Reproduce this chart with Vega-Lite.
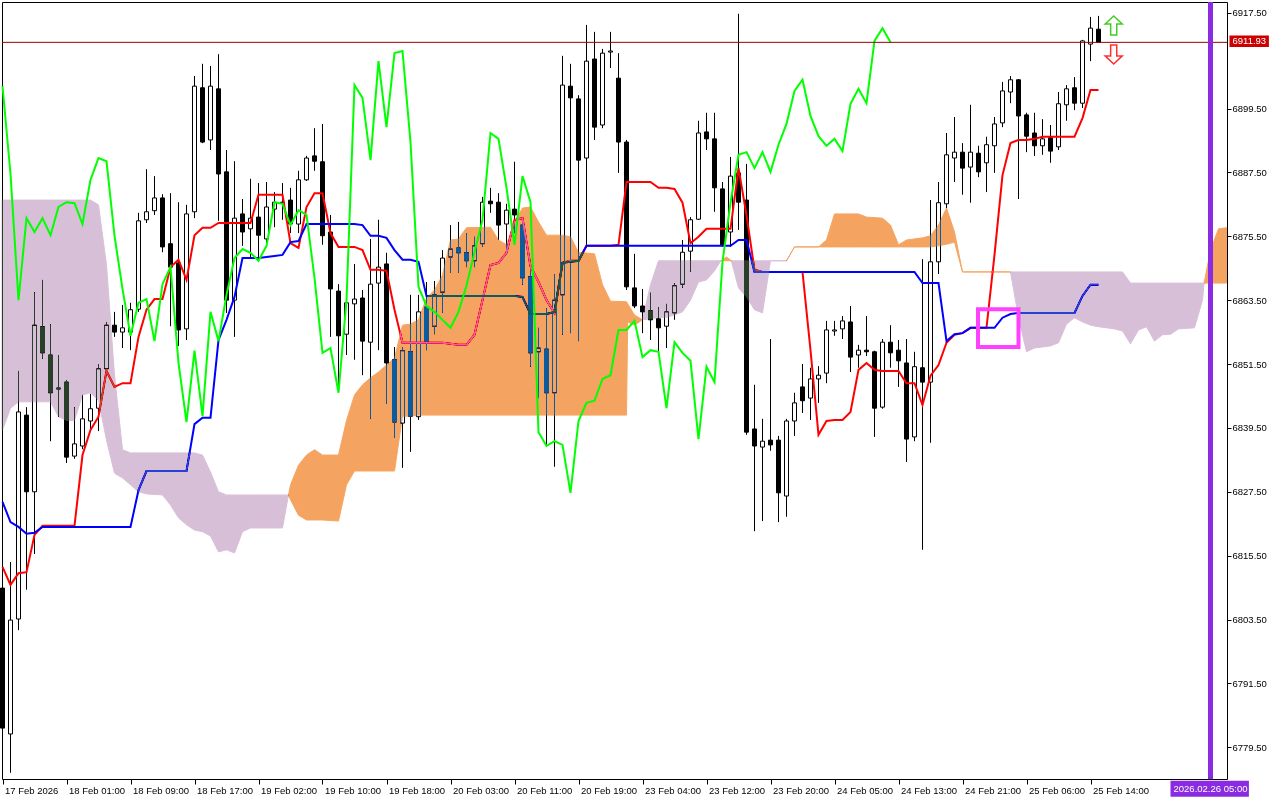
{
"$schema": "https://vega.github.io/schema/vega-lite/v6.json",
"width": 1225, "height": 777,
"autosize": {"type": "none"},
"padding": {"left": 2, "top": 2, "right": 53, "bottom": 21},
"background": "white",
"config": {"view": {"stroke": "black", "strokeWidth": 1}, "font": "Liberation Sans",
 "axis": {"labelFont": "Liberation Sans", "labelFontSize": 9.5, "labelColor": "black", "tickColor": "black", "grid": false, "domain": false, "title": null}},
"datasets": {
"bars": [
{"i":0,"o":6809.4,"h":6810.0,"l":6782.4,"c":6783.1,"t":6813.4,"k":6825.6,"ch":6903.7},
{"i":1,"o":6782.0,"h":6814.3,"l":6774.7,"c":6803.4,"t":6810.0,"k":6821.8,"ch":6887.2},
{"i":2,"o":6803.6,"h":6850.2,"l":6801.5,"c":6842.5,"t":6812.2,"k":6820.9,"ch":6863.5},
{"i":3,"o":6841.9,"h":6843.4,"l":6809.1,"c":6827.5,"t":6812.4,"k":6819.6,"ch":6878.9},
{"i":4,"o":6827.5,"h":6865.0,"l":6815.8,"c":6858.8,"t":6819.4,"k":6819.8,"ch":6876.3},
{"i":5,"o":6858.5,"h":6867.3,"l":6852.5,"c":6853.6,"t":6821.1,"k":6820.9,"ch":6878.9},
{"i":6,"o":6853.2,"h":6859.0,"l":6837.0,"c":6846.1,"t":6821.1,"k":6820.9,"ch":6875.7},
{"i":7,"o":6847.0,"h":6853.2,"l":6841.6,"c":6846.8,"t":6821.1,"k":6820.9,"ch":6881.0},
{"i":8,"o":6848.1,"h":6848.5,"l":6832.9,"c":6834.0,"t":6821.1,"k":6820.9,"ch":6881.9},
{"i":9,"o":6834.2,"h":6843.4,"l":6833.7,"c":6836.5,"t":6821.1,"k":6820.9,"ch":6881.7},
{"i":10,"o":6836.1,"h":6845.7,"l":6835.5,"c":6841.2,"t":6834.4,"k":6820.9,"ch":6877.8},
{"i":11,"o":6840.8,"h":6845.9,"l":6838.9,"c":6843.1,"t":6839.1,"k":6820.9,"ch":6886.1},
{"i":12,"o":6843.2,"h":6851.5,"l":6838.9,"c":6850.6,"t":6841.6,"k":6820.9,"ch":6890.2},
{"i":13,"o":6850.6,"h":6859.4,"l":6850.0,"c":6858.8,"t":6850.2,"k":6820.9,"ch":6889.6},
{"i":14,"o":6858.8,"h":6861.3,"l":6856.6,"c":6857.5,"t":6847.2,"k":6820.9,"ch":6875.6},
{"i":15,"o":6857.5,"h":6862.6,"l":6854.5,"c":6858.3,"t":6847.9,"k":6820.9,"ch":6865.6},
{"i":16,"o":6857.5,"h":6863.0,"l":6854.1,"c":6861.7,"t":6847.9,"k":6820.9,"ch":6856.8},
{"i":17,"o":6861.8,"h":6879.9,"l":6861.3,"c":6878.4,"t":6856.6,"k":6827.8,"ch":6863.0},
{"i":18,"o":6878.6,"h":6888.1,"l":6878.0,"c":6880.1,"t":6861.7,"k":6831.4,"ch":6863.7},
{"i":19,"o":6880.3,"h":6886.8,"l":6879.5,"c":6882.7,"t":6863.7,"k":6831.4,"ch":6855.8},
{"i":20,"o":6882.7,"h":6883.4,"l":6872.5,"c":6873.5,"t":6863.7,"k":6831.4,"ch":6866.5},
{"i":21,"o":6874.1,"h":6883.6,"l":6858.6,"c":6869.7,"t":6869.7,"k":6831.4,"ch":6869.7},
{"i":22,"o":6870.5,"h":6881.9,"l":6854.9,"c":6857.9,"t":6871.1,"k":6831.4,"ch":6851.7},
{"i":23,"o":6858.1,"h":6881.4,"l":6856.0,"c":6879.7,"t":6867.3,"k":6831.4,"ch":6840.6},
{"i":24,"o":6880.1,"h":6905.6,"l":6878.9,"c":6903.7,"t":6875.7,"k":6840.2,"ch":6854.0},
{"i":25,"o":6903.4,"h":6907.9,"l":6893.0,"c":6893.2,"t":6877.1,"k":6841.4,"ch":6841.7},
{"i":26,"o":6893.6,"h":6907.5,"l":6891.7,"c":6903.7,"t":6877.1,"k":6841.4,"ch":6861.3},
{"i":27,"o":6903.2,"h":6909.7,"l":6878.4,"c":6887.2,"t":6878.0,"k":6856.0,"ch":6855.8},
{"i":28,"o":6887.6,"h":6891.7,"l":6861.1,"c":6863.5,"t":6878.0,"k":6859.8,"ch":6864.5},
{"i":29,"o":6863.5,"h":6889.6,"l":6856.6,"c":6878.9,"t":6878.0,"k":6864.1,"ch":6871.4},
{"i":30,"o":6879.7,"h":6882.5,"l":6873.7,"c":6876.3,"t":6878.0,"k":6871.4,"ch":6873.1},
{"i":31,"o":6876.9,"h":6886.3,"l":6871.6,"c":6878.9,"t":6878.0,"k":6871.4,"ch":6872.4},
{"i":32,"o":6879.1,"h":6885.5,"l":6871.4,"c":6875.7,"t":6883.3,"k":6871.4,"ch":6870.9},
{"i":33,"o":6875.0,"h":6885.7,"l":6873.5,"c":6881.0,"t":6883.3,"k":6871.6,"ch":6873.7},
{"i":34,"o":6880.6,"h":6883.8,"l":6877.2,"c":6881.9,"t":6883.3,"k":6871.8,"ch":6881.9},
{"i":35,"o":6881.9,"h":6885.5,"l":6878.6,"c":6881.7,"t":6883.3,"k":6872.0,"ch":6881.6},
{"i":36,"o":6882.3,"h":6884.6,"l":6876.1,"c":6877.8,"t":6874.2,"k":6874.4,"ch":6877.6},
{"i":37,"o":6877.8,"h":6887.8,"l":6876.1,"c":6886.1,"t":6873.3,"k":6874.6,"ch":6880.4},
{"i":38,"o":6886.1,"h":6890.6,"l":6885.9,"c":6890.2,"t":6881.0,"k":6877.8,"ch":6879.5},
{"i":39,"o":6890.6,"h":6895.8,"l":6887.8,"c":6889.6,"t":6883.6,"k":6877.8,"ch":6867.7},
{"i":40,"o":6889.5,"h":6896.6,"l":6873.9,"c":6875.6,"t":6883.6,"k":6877.8,"ch":6853.6},
{"i":41,"o":6876.3,"h":6879.5,"l":6856.6,"c":6865.6,"t":6876.1,"k":6877.8,"ch":6854.5},
{"i":42,"o":6865.2,"h":6866.5,"l":6847.0,"c":6856.8,"t":6873.5,"k":6877.8,"ch":6846.1},
{"i":43,"o":6857.1,"h":6864.7,"l":6853.2,"c":6863.0,"t":6873.5,"k":6877.8,"ch":6863.5},
{"i":44,"o":6862.8,"h":6870.3,"l":6852.3,"c":6863.7,"t":6873.5,"k":6877.8,"ch":6903.9},
{"i":45,"o":6863.9,"h":6865.4,"l":6849.4,"c":6855.8,"t":6872.9,"k":6877.6,"ch":6901.5},
{"i":46,"o":6855.6,"h":6875.0,"l":6841.2,"c":6866.5,"t":6869.2,"k":6875.6,"ch":6889.8},
{"i":47,"o":6866.7,"h":6878.6,"l":6854.1,"c":6869.7,"t":6869.2,"k":6875.6,"ch":6908.4},
{"i":48,"o":6870.3,"h":6872.4,"l":6844.0,"c":6851.7,"t":6869.0,"k":6875.2,"ch":6896.0},
{"i":49,"o":6852.3,"h":6854.7,"l":6837.6,"c":6840.6,"t":6861.7,"k":6872.9,"ch":6909.9},
{"i":50,"o":6840.4,"h":6854.7,"l":6832.0,"c":6854.0,"t":6855.5,"k":6871.1,"ch":6910.3},
{"i":51,"o":6853.8,"h":6864.5,"l":6835.0,"c":6841.7,"t":6855.5,"k":6871.1,"ch":6893.2},
{"i":52,"o":6841.6,"h":6864.5,"l":6841.0,"c":6861.3,"t":6855.5,"k":6870.7,"ch":6866.0},
{"i":53,"o":6862.2,"h":6866.9,"l":6854.1,"c":6855.8,"t":6855.5,"k":6864.3,"ch":6862.4},
{"i":54,"o":6858.6,"h":6867.1,"l":6857.1,"c":6864.5,"t":6855.5,"k":6864.3,"ch":6861.3},
{"i":55,"o":6865.0,"h":6872.9,"l":6861.1,"c":6871.4,"t":6855.5,"k":6864.3,"ch":6859.8},
{"i":56,"o":6871.6,"h":6877.6,"l":6868.6,"c":6873.1,"t":6855.3,"k":6864.3,"ch":6858.3},
{"i":57,"o":6873.3,"h":6878.2,"l":6868.6,"c":6872.4,"t":6855.1,"k":6864.3,"ch":6861.3},
{"i":58,"o":6872.4,"h":6876.1,"l":6869.7,"c":6870.9,"t":6855.1,"k":6864.3,"ch":6866.2},
{"i":59,"o":6870.9,"h":6875.4,"l":6869.7,"c":6873.7,"t":6857.0,"k":6864.3,"ch":6872.5},
{"i":60,"o":6874.1,"h":6882.9,"l":6873.5,"c":6881.9,"t":6863.5,"k":6864.3,"ch":6878.6},
{"i":61,"o":6882.1,"h":6884.6,"l":6879.9,"c":6881.6,"t":6870.1,"k":6864.3,"ch":6894.9},
{"i":62,"o":6881.9,"h":6883.6,"l":6874.8,"c":6877.6,"t":6870.5,"k":6864.3,"ch":6893.8},
{"i":63,"o":6877.8,"h":6881.6,"l":6872.0,"c":6880.4,"t":6872.4,"k":6864.3,"ch":6884.6},
{"i":64,"o":6880.6,"h":6889.5,"l":6876.1,"c":6879.5,"t":6878.6,"k":6864.3,"ch":6873.9},
{"i":65,"o":6877.6,"h":6878.9,"l":6866.4,"c":6867.7,"t":6878.9,"k":6864.1,"ch":6886.8},
{"i":66,"o":6867.9,"h":6869.2,"l":6851.0,"c":6853.6,"t":6869.9,"k":6860.9,"ch":6881.9},
{"i":67,"o":6853.8,"h":6858.3,"l":6845.1,"c":6854.5,"t":6866.9,"k":6860.9,"ch":6838.7},
{"i":68,"o":6854.3,"h":6862.0,"l":6835.9,"c":6846.1,"t":6863.5,"k":6860.9,"ch":6836.1},
{"i":69,"o":6846.1,"h":6868.4,"l":6832.2,"c":6863.5,"t":6861.1,"k":6861.3,"ch":6837.0},
{"i":70,"o":6864.5,"h":6909.4,"l":6857.0,"c":6903.9,"t":6870.5,"k":6870.5,"ch":6836.3},
{"i":71,"o":6903.7,"h":6907.9,"l":6857.3,"c":6901.5,"t":6870.9,"k":6870.7,"ch":6827.3},
{"i":72,"o":6901.3,"h":6902.0,"l":6855.8,"c":6889.8,"t":6870.9,"k":6870.9,"ch":6840.8},
{"i":73,"o":6890.2,"h":6915.2,"l":6873.3,"c":6908.4,"t":6873.7,"k":6873.7,"ch":6844.2},
{"i":74,"o":6908.8,"h":6913.9,"l":6893.6,"c":6896.0,"t":6873.7,"k":6873.7,"ch":6844.6},
{"i":75,"o":6896.4,"h":6910.7,"l":6895.8,"c":6909.9,"t":6873.7,"k":6873.7,"ch":6848.7},
{"i":76,"o":6910.1,"h":6913.9,"l":6907.1,"c":6910.3,"t":6873.7,"k":6873.7,"ch":6849.4},
{"i":77,"o":6905.2,"h":6909.9,"l":6887.4,"c":6893.2,"t":6873.9,"k":6873.7,"ch":6857.9},
{"i":78,"o":6893.2,"h":6893.6,"l":6865.4,"c":6866.0,"t":6885.7,"k":6873.7,"ch":6857.9},
{"i":79,"o":6865.8,"h":6872.2,"l":6862.0,"c":6862.4,"t":6885.7,"k":6873.7,"ch":6859.6},
{"i":80,"o":6862.4,"h":6865.6,"l":6857.3,"c":6861.3,"t":6885.7,"k":6873.7,"ch":6852.8},
{"i":81,"o":6861.5,"h":6864.9,"l":6856.0,"c":6859.8,"t":6885.7,"k":6873.7,"ch":6854.1},
{"i":82,"o":6860.0,"h":6862.2,"l":6853.6,"c":6858.3,"t":6884.6,"k":6873.7,"ch":6853.8},
{"i":83,"o":6858.6,"h":6862.8,"l":6854.5,"c":6861.3,"t":6884.6,"k":6873.7,"ch":6843.2},
{"i":84,"o":6861.1,"h":6866.7,"l":6859.8,"c":6866.2,"t":6884.4,"k":6873.7,"ch":6855.6},
{"i":85,"o":6866.5,"h":6874.8,"l":6865.8,"c":6872.5,"t":6881.8,"k":6873.7,"ch":6853.6},
{"i":86,"o":6872.7,"h":6879.1,"l":6868.8,"c":6878.6,"t":6874.2,"k":6873.7,"ch":6852.1},
{"i":87,"o":6878.7,"h":6897.2,"l":6878.6,"c":6894.9,"t":6875.4,"k":6873.7,"ch":6837.4},
{"i":88,"o":6895.1,"h":6898.7,"l":6891.7,"c":6893.8,"t":6876.9,"k":6873.7,"ch":6851.0},
{"i":89,"o":6893.8,"h":6898.7,"l":6880.1,"c":6884.6,"t":6876.9,"k":6873.7,"ch":6848.1},
{"i":90,"o":6884.4,"h":6885.7,"l":6873.5,"c":6873.9,"t":6876.9,"k":6873.7,"ch":6870.7},
{"i":91,"o":6876.3,"h":6890.4,"l":6873.5,"c":6886.8,"t":6876.9,"k":6873.7,"ch":6881.8},
{"i":92,"o":6887.4,"h":6917.3,"l":6876.7,"c":6881.9,"t":6888.3,"k":6874.8,"ch":6890.8},
{"i":93,"o":6882.3,"h":6889.1,"l":6838.2,"c":6838.7,"t":6879.5,"k":6874.8,"ch":6891.3},
{"i":94,"o":6839.3,"h":6847.6,"l":6820.1,"c":6836.1,"t":6869.2,"k":6868.8,"ch":6888.3},
{"i":95,"o":6835.9,"h":6841.2,"l":6822.0,"c":6837.0,"t":6868.8,"k":6868.8,"ch":6891.3},
{"i":96,"o":6837.2,"h":6856.2,"l":6835.2,"c":6836.3,"t":6868.8,"k":6868.8,"ch":6887.6},
{"i":97,"o":6837.2,"h":6838.0,"l":6821.8,"c":6827.3,"t":6868.8,"k":6868.8,"ch":6892.7},
{"i":98,"o":6826.7,"h":6841.2,"l":6822.8,"c":6840.8,"t":6868.8,"k":6868.8,"ch":6896.6},
{"i":99,"o":6840.8,"h":6846.1,"l":6838.0,"c":6844.2,"t":6868.8,"k":6868.8,"ch":6902.8},
{"i":100,"o":6847.2,"h":6851.5,"l":6842.3,"c":6844.6,"t":6868.8,"k":6868.8,"ch":6904.9},
{"i":101,"o":6845.1,"h":6850.8,"l":6841.0,"c":6848.7,"t":6854.1,"k":6868.8,"ch":6898.1},
{"i":102,"o":6848.7,"h":6851.1,"l":6844.2,"c":6849.4,"t":6838.2,"k":6868.8,"ch":6894.3},
{"i":103,"o":6849.8,"h":6859.6,"l":6847.9,"c":6857.9,"t":6840.8,"k":6868.8,"ch":6892.5},
{"i":104,"o":6857.7,"h":6859.6,"l":6856.8,"c":6857.9,"t":6841.0,"k":6868.8,"ch":6893.8},
{"i":105,"o":6858.1,"h":6860.5,"l":6856.2,"c":6859.6,"t":6841.0,"k":6868.8,"ch":6891.5},
{"i":106,"o":6859.4,"h":6862.4,"l":6850.0,"c":6852.8,"t":6842.5,"k":6868.8,"ch":6900.4},
{"i":107,"o":6853.2,"h":6855.1,"l":6850.8,"c":6854.1,"t":6850.4,"k":6868.8,"ch":6903.2},
{"i":108,"o":6854.1,"h":6860.5,"l":6853.0,"c":6853.8,"t":6851.7,"k":6868.8,"ch":6900.5},
{"i":109,"o":6853.8,"h":6854.0,"l":6837.8,"c":6843.2,"t":6850.4,"k":6868.8,"ch":6912.2},
{"i":110,"o":6843.4,"h":6856.2,"l":6843.1,"c":6855.6,"t":6850.2,"k":6868.8,"ch":6914.6},
{"i":111,"o":6855.6,"h":6858.8,"l":6850.8,"c":6853.6,"t":6850.2,"k":6868.8,"ch":6911.93},
{"i":112,"o":6854.1,"h":6856.0,"l":6847.2,"c":6852.1,"t":6850.2,"k":6868.8},
{"i":113,"o":6851.7,"h":6856.2,"l":6833.1,"c":6837.4,"t":6847.9,"k":6868.8},
{"i":114,"o":6837.8,"h":6853.8,"l":6837.0,"c":6851.0,"t":6847.9,"k":6868.8},
{"i":115,"o":6850.8,"h":6871.2,"l":6816.6,"c":6848.1,"t":6843.8,"k":6866.7},
{"i":116,"o":6848.1,"h":6882.3,"l":6836.7,"c":6870.7,"t":6849.3,"k":6866.7},
{"i":117,"o":6870.7,"h":6885.7,"l":6868.4,"c":6881.8,"t":6851.3,"k":6866.7},
{"i":118,"o":6881.6,"h":6894.9,"l":6880.8,"c":6890.8,"t":6855.5,"k":6855.8},
{"i":119,"o":6890.2,"h":6897.9,"l":6885.7,"c":6891.3,"t":6857.0,"k":6857.1},
{"i":120,"o":6891.3,"h":6893.0,"l":6883.3,"c":6888.3,"t":6857.3,"k":6857.3},
{"i":121,"o":6888.5,"h":6900.2,"l":6881.8,"c":6891.3,"t":6858.3,"k":6858.3},
{"i":122,"o":6891.1,"h":6892.5,"l":6886.6,"c":6887.6,"t":6858.3,"k":6858.3},
{"i":123,"o":6889.3,"h":6894.2,"l":6883.8,"c":6892.7,"t":6858.3,"k":6858.3},
{"i":124,"o":6892.5,"h":6897.9,"l":6887.4,"c":6896.6,"t":6872.0,"k":6858.3},
{"i":125,"o":6896.8,"h":6904.5,"l":6896.0,"c":6902.8,"t":6887.0,"k":6860.2},
{"i":126,"o":6902.6,"h":6905.6,"l":6900.5,"c":6904.9,"t":6893.0,"k":6860.9},
{"i":127,"o":6904.9,"h":6905.0,"l":6882.5,"c":6898.1,"t":6893.6,"k":6861.1},
{"i":128,"o":6898.3,"h":6898.7,"l":6891.3,"c":6894.3,"t":6893.6,"k":6861.1},
{"i":129,"o":6894.9,"h":6898.7,"l":6890.6,"c":6892.5,"t":6893.8,"k":6861.1},
{"i":130,"o":6892.5,"h":6897.5,"l":6890.8,"c":6893.8,"t":6894.2,"k":6861.1},
{"i":131,"o":6894.0,"h":6896.4,"l":6889.3,"c":6891.5,"t":6894.2,"k":6861.1},
{"i":132,"o":6892.3,"h":6902.6,"l":6891.7,"c":6900.4,"t":6894.2,"k":6861.1},
{"i":133,"o":6900.2,"h":6903.9,"l":6897.2,"c":6903.2,"t":6894.2,"k":6861.1},
{"i":134,"o":6903.4,"h":6905.4,"l":6899.2,"c":6900.5,"t":6894.2,"k":6861.1},
{"i":135,"o":6900.5,"h":6912.4,"l":6899.6,"c":6912.2,"t":6897.7,"k":6864.3},
{"i":136,"o":6911.6,"h":6916.7,"l":6908.4,"c":6914.6,"t":6903.0,"k":6866.4},
{"i":137,"o":6914.4,"h":6916.9,"l":6911.8,"c":6911.93,"t":6903.0,"k":6866.4}
],
"cloud": [
{"i":-0.06,"hi":6882.3,"lo":6839.1,"seg":"s1","kind":"bear"},
{"i":0,"hi":6882.3,"lo":6839.1,"seg":"s1","kind":"bear"},
{"i":1,"hi":6882.3,"lo":6843.2,"seg":"s1","kind":"bear"},
{"i":2,"hi":6882.3,"lo":6844.4,"seg":"s1","kind":"bear"},
{"i":6,"hi":6882.3,"lo":6844.4,"seg":"s1","kind":"bear"},
{"i":7,"hi":6882.3,"lo":6841.6,"seg":"s1","kind":"bear"},
{"i":8,"hi":6882.3,"lo":6840.9,"seg":"s1","kind":"bear"},
{"i":9,"hi":6882.3,"lo":6840.9,"seg":"s1","kind":"bear"},
{"i":10,"hi":6882.3,"lo":6845.7,"seg":"s1","kind":"bear"},
{"i":11,"hi":6882.3,"lo":6846.1,"seg":"s1","kind":"bear"},
{"i":12,"hi":6881.4,"lo":6844.7,"seg":"s1","kind":"bear"},
{"i":13,"hi":6870.1,"lo":6837.2,"seg":"s1","kind":"bear"},
{"i":14,"hi":6849.4,"lo":6831.0,"seg":"s1","kind":"bear"},
{"i":15,"hi":6835.4,"lo":6830.1,"seg":"s1","kind":"bear"},
{"i":16,"hi":6834.8,"lo":6828.8,"seg":"s1","kind":"bear"},
{"i":17,"hi":6834.8,"lo":6827.5,"seg":"s1","kind":"bear"},
{"i":18,"hi":6834.8,"lo":6827.1,"seg":"s1","kind":"bear"},
{"i":20,"hi":6834.8,"lo":6826.9,"seg":"s1","kind":"bear"},
{"i":21,"hi":6834.8,"lo":6825.0,"seg":"s1","kind":"bear"},
{"i":22,"hi":6834.8,"lo":6822.6,"seg":"s1","kind":"bear"},
{"i":23,"hi":6834.8,"lo":6821.3,"seg":"s1","kind":"bear"},
{"i":24,"hi":6834.8,"lo":6820.3,"seg":"s1","kind":"bear"},
{"i":25,"hi":6834.4,"lo":6820.0,"seg":"s1","kind":"bear"},
{"i":26,"hi":6831.2,"lo":6819.2,"seg":"s1","kind":"bear"},
{"i":27,"hi":6827.5,"lo":6816.2,"seg":"s1","kind":"bear"},
{"i":28,"hi":6826.9,"lo":6816.6,"seg":"s1","kind":"bear"},
{"i":29,"hi":6826.9,"lo":6816.0,"seg":"s1","kind":"bear"},
{"i":30,"hi":6826.9,"lo":6820.0,"seg":"s1","kind":"bear"},
{"i":31,"hi":6826.9,"lo":6820.7,"seg":"s1","kind":"bear"},
{"i":35,"hi":6826.9,"lo":6820.7,"seg":"s1","kind":"bear"},
{"i":35.75,"hi":6826.9,"lo":6826.9,"seg":"s1","kind":"bear"},
{"i":35.75,"hi":6826.9,"lo":6826.9,"seg":"s2","kind":"bull"},
{"i":36,"hi":6828.8,"lo":6826.0,"seg":"s2","kind":"bull"},
{"i":37,"hi":6832.5,"lo":6823.1,"seg":"s2","kind":"bull"},
{"i":38,"hi":6834.4,"lo":6822.2,"seg":"s2","kind":"bull"},
{"i":39,"hi":6835.4,"lo":6822.2,"seg":"s2","kind":"bull"},
{"i":40,"hi":6834.4,"lo":6822.2,"seg":"s2","kind":"bull"},
{"i":42,"hi":6834.4,"lo":6822.0,"seg":"s2","kind":"bull"},
{"i":43,"hi":6840.9,"lo":6828.8,"seg":"s2","kind":"bull"},
{"i":44,"hi":6845.7,"lo":6831.4,"seg":"s2","kind":"bull"},
{"i":45,"hi":6847.6,"lo":6831.4,"seg":"s2","kind":"bull"},
{"i":46,"hi":6848.9,"lo":6831.4,"seg":"s2","kind":"bull"},
{"i":47,"hi":6850.0,"lo":6831.4,"seg":"s2","kind":"bull"},
{"i":48,"hi":6851.3,"lo":6831.4,"seg":"s2","kind":"bull"},
{"i":49,"hi":6852.6,"lo":6831.4,"seg":"s2","kind":"bull"},
{"i":50,"hi":6858.8,"lo":6841.7,"seg":"s2","kind":"bull"},
{"i":51,"hi":6859.0,"lo":6841.7,"seg":"s2","kind":"bull"},
{"i":52,"hi":6859.8,"lo":6841.9,"seg":"s2","kind":"bull"},
{"i":53,"hi":6863.9,"lo":6841.9,"seg":"s2","kind":"bull"},
{"i":54,"hi":6865.4,"lo":6841.9,"seg":"s2","kind":"bull"},
{"i":55,"hi":6868.2,"lo":6841.9,"seg":"s2","kind":"bull"},
{"i":56,"hi":6874.8,"lo":6841.9,"seg":"s2","kind":"bull"},
{"i":57,"hi":6875.0,"lo":6841.9,"seg":"s2","kind":"bull"},
{"i":58,"hi":6877.1,"lo":6841.9,"seg":"s2","kind":"bull"},
{"i":61,"hi":6877.2,"lo":6841.9,"seg":"s2","kind":"bull"},
{"i":62,"hi":6874.8,"lo":6841.9,"seg":"s2","kind":"bull"},
{"i":63,"hi":6873.9,"lo":6841.9,"seg":"s2","kind":"bull"},
{"i":64,"hi":6878.2,"lo":6841.9,"seg":"s2","kind":"bull"},
{"i":65,"hi":6880.8,"lo":6841.9,"seg":"s2","kind":"bull"},
{"i":66,"hi":6881.0,"lo":6841.9,"seg":"s2","kind":"bull"},
{"i":67,"hi":6878.2,"lo":6841.9,"seg":"s2","kind":"bull"},
{"i":68,"hi":6875.7,"lo":6841.9,"seg":"s2","kind":"bull"},
{"i":70,"hi":6875.7,"lo":6841.9,"seg":"s2","kind":"bull"},
{"i":71,"hi":6875.4,"lo":6841.9,"seg":"s2","kind":"bull"},
{"i":72,"hi":6872.5,"lo":6841.9,"seg":"s2","kind":"bull"},
{"i":74,"hi":6872.2,"lo":6841.9,"seg":"s2","kind":"bull"},
{"i":75,"hi":6866.4,"lo":6841.9,"seg":"s2","kind":"bull"},
{"i":76,"hi":6863.3,"lo":6841.9,"seg":"s2","kind":"bull"},
{"i":78,"hi":6863.2,"lo":6841.9,"seg":"s2","kind":"bull"},
{"i":78.15,"hi":6862.8,"lo":6859.4,"seg":"s2","kind":"bull"},
{"i":79,"hi":6860.7,"lo":6858.8,"seg":"s2","kind":"bull"},
{"i":80,"hi":6859.8,"lo":6859.8,"seg":"s2","kind":"bull"},
{"i":80,"hi":6859.8,"lo":6859.8,"seg":"s3","kind":"bear"},
{"i":81,"hi":6866.4,"lo":6860.0,"seg":"s3","kind":"bear"},
{"i":82,"hi":6870.9,"lo":6860.2,"seg":"s3","kind":"bear"},
{"i":83,"hi":6870.9,"lo":6860.3,"seg":"s3","kind":"bear"},
{"i":84,"hi":6870.9,"lo":6860.7,"seg":"s3","kind":"bear"},
{"i":85,"hi":6870.9,"lo":6861.3,"seg":"s3","kind":"bear"},
{"i":86,"hi":6870.9,"lo":6863.5,"seg":"s3","kind":"bear"},
{"i":87,"hi":6870.9,"lo":6866.9,"seg":"s3","kind":"bear"},
{"i":88,"hi":6870.9,"lo":6867.3,"seg":"s3","kind":"bear"},
{"i":89,"hi":6870.9,"lo":6869.0,"seg":"s3","kind":"bear"},
{"i":89.8,"hi":6870.9,"lo":6870.9,"seg":"s3","kind":"bear"},
{"i":89.8,"hi":6870.9,"lo":6870.9,"seg":"s4","kind":"bull"},
{"i":90.5,"hi":6871.6,"lo":6870.9,"seg":"s4","kind":"bull"},
{"i":91.1,"hi":6870.9,"lo":6870.9,"seg":"s4","kind":"bull"},
{"i":91.1,"hi":6870.9,"lo":6870.9,"seg":"s5","kind":"bear"},
{"i":92,"hi":6870.9,"lo":6865.8,"seg":"s5","kind":"bear"},
{"i":93,"hi":6870.9,"lo":6864.1,"seg":"s5","kind":"bear"},
{"i":94,"hi":6870.9,"lo":6861.7,"seg":"s5","kind":"bear"},
{"i":95,"hi":6870.9,"lo":6861.1,"seg":"s5","kind":"bear"},
{"i":96,"hi":6870.9,"lo":6870.9,"seg":"s5","kind":"bear"},
{"i":98,"hi":6870.9,"lo":6870.9,"seg":"s5","kind":"bear"},
{"i":98,"hi":6870.9,"lo":6870.9,"seg":"s6","kind":"bull"},
{"i":99,"hi":6873.5,"lo":6873.5,"seg":"s6","kind":"bull"},
{"i":102,"hi":6873.5,"lo":6873.5,"seg":"s6","kind":"bull"},
{"i":103,"hi":6874.8,"lo":6873.5,"seg":"s6","kind":"bull"},
{"i":104,"hi":6879.7,"lo":6873.5,"seg":"s6","kind":"bull"},
{"i":107,"hi":6879.7,"lo":6873.5,"seg":"s6","kind":"bull"},
{"i":108,"hi":6879.1,"lo":6873.5,"seg":"s6","kind":"bull"},
{"i":110,"hi":6878.9,"lo":6873.5,"seg":"s6","kind":"bull"},
{"i":111,"hi":6877.6,"lo":6873.5,"seg":"s6","kind":"bull"},
{"i":112,"hi":6873.9,"lo":6873.5,"seg":"s6","kind":"bull"},
{"i":113,"hi":6874.8,"lo":6873.5,"seg":"s6","kind":"bull"},
{"i":115,"hi":6875.2,"lo":6873.5,"seg":"s6","kind":"bull"},
{"i":116,"hi":6875.6,"lo":6873.5,"seg":"s6","kind":"bull"},
{"i":117,"hi":6877.6,"lo":6873.7,"seg":"s6","kind":"bull"},
{"i":118,"hi":6880.8,"lo":6874.0,"seg":"s6","kind":"bull"},
{"i":119,"hi":6876.3,"lo":6874.4,"seg":"s6","kind":"bull"},
{"i":120,"hi":6868.8,"lo":6868.8,"seg":"s6","kind":"bull"},
{"i":126,"hi":6868.8,"lo":6868.8,"seg":"s6","kind":"bull"},
{"i":126,"hi":6868.8,"lo":6868.8,"seg":"s7","kind":"bear"},
{"i":127,"hi":6868.8,"lo":6860.2,"seg":"s7","kind":"bear"},
{"i":128,"hi":6868.8,"lo":6853.8,"seg":"s7","kind":"bear"},
{"i":129,"hi":6868.8,"lo":6854.5,"seg":"s7","kind":"bear"},
{"i":130,"hi":6868.8,"lo":6854.7,"seg":"s7","kind":"bear"},
{"i":131,"hi":6868.8,"lo":6854.9,"seg":"s7","kind":"bear"},
{"i":132,"hi":6868.8,"lo":6855.5,"seg":"s7","kind":"bear"},
{"i":133,"hi":6868.8,"lo":6859.0,"seg":"s7","kind":"bear"},
{"i":134,"hi":6868.8,"lo":6860.2,"seg":"s7","kind":"bear"},
{"i":135,"hi":6868.8,"lo":6859.4,"seg":"s7","kind":"bear"},
{"i":136,"hi":6868.8,"lo":6858.8,"seg":"s7","kind":"bear"},
{"i":137,"hi":6868.8,"lo":6858.5,"seg":"s7","kind":"bear"},
{"i":138,"hi":6868.8,"lo":6858.3,"seg":"s7","kind":"bear"},
{"i":139,"hi":6868.8,"lo":6858.1,"seg":"s7","kind":"bear"},
{"i":140,"hi":6868.8,"lo":6857.7,"seg":"s7","kind":"bear"},
{"i":141,"hi":6866.7,"lo":6855.3,"seg":"s7","kind":"bear"},
{"i":142,"hi":6866.7,"lo":6857.9,"seg":"s7","kind":"bear"},
{"i":143,"hi":6866.7,"lo":6858.5,"seg":"s7","kind":"bear"},
{"i":144,"hi":6866.7,"lo":6855.8,"seg":"s7","kind":"bear"},
{"i":145,"hi":6866.7,"lo":6857.0,"seg":"s7","kind":"bear"},
{"i":146,"hi":6866.7,"lo":6857.1,"seg":"s7","kind":"bear"},
{"i":147,"hi":6866.7,"lo":6858.1,"seg":"s7","kind":"bear"},
{"i":149,"hi":6866.7,"lo":6858.3,"seg":"s7","kind":"bear"},
{"i":150,"hi":6866.7,"lo":6863.5,"seg":"s7","kind":"bear"},
{"i":150.2,"hi":6866.7,"lo":6866.7,"seg":"s7","kind":"bear"},
{"i":150.2,"hi":6866.7,"lo":6866.7,"seg":"s8","kind":"bull"},
{"i":151,"hi":6872.9,"lo":6866.7,"seg":"s8","kind":"bull"},
{"i":152,"hi":6876.9,"lo":6866.7,"seg":"s8","kind":"bull"},
{"i":153.0,"hi":6877.1,"lo":6866.7,"seg":"s8","kind":"bull"}
],
"price": [{"p": 6911.93}],
"vline": [{"i": 151}],
"box": [{"i": 121.94, "i2": 127.0, "p": 6861.8, "p2": 6854.7}],
"arrowup": [{"i": 138.9, "p": 6915.1}],
"arrowdown": [{"i": 138.9, "p": 6909.65}],
"pricetag": [{"i": 153.375, "i2": 158.3, "p": 6913.22, "p2": 6911.06, "pm": 6912.14, "im": 155.85, "label": "6911.93"}],
"timetag": [{"i": 146.0, "i2": 155.8, "p": 6773.2, "p2": 6770.2, "pm": 6771.6, "im": 151.0, "label": "2026.02.26 05:00"}]
},
"layer": [
{"data": {"name": "bars"}, "mark": {"type": "rule", "color": "black", "strokeWidth": 1},
 "encoding": {
  "x": {"field": "i", "type": "quantitative", "scale": {"domain": [-0.0625, 153.0625], "nice": false, "zero": false, "padding": 0},
   "axis": {"orient": "bottom", "title": null, "values": [0,8,16,24,32,40,48,56,64,72,80,88,96,104,112,120,128,136],
    "labelExpr": "['17 Feb 2026','18 Feb 01:00','18 Feb 09:00','18 Feb 17:00','19 Feb 02:00','19 Feb 10:00','19 Feb 18:00','20 Feb 03:00','20 Feb 11:00','20 Feb 19:00','23 Feb 04:00','23 Feb 12:00','23 Feb 20:00','24 Feb 05:00','24 Feb 13:00','24 Feb 21:00','25 Feb 06:00','25 Feb 14:00'][round(datum.value/8)]",
    "tickSize": 5, "labelAlign": "left", "labelOffset": 2, "labelPadding": 1, "labelBaseline": "top", "labelOverlap": false, "labelFlush": false}},
  "y": {"field": "l", "type": "quantitative", "scale": {"domain": [6773.54, 6919.51], "nice": false, "zero": false, "padding": 0},
   "axis": {"orient": "right", "title": null, "format": ".2f", "tickSize": 4, "labelPadding": 1, "labelBaseline": "middle",
    "values": [6779.5,6785.5,6791.5,6797.5,6803.5,6809.5,6815.5,6821.5,6827.5,6833.5,6839.5,6845.5,6851.5,6857.5,6863.5,6869.5,6875.5,6881.5,6887.5,6893.5,6899.5,6905.5,6917.5], "labelOverlap": false}},
  "y2": {"field": "h"}
 }},
{"data": {"name": "bars"}, "mark": {"type": "bar", "size": 4, "stroke": "black", "strokeWidth": 1},
 "encoding": {
  "x": {"field": "i", "type": "quantitative"},
  "y": {"field": "o", "type": "quantitative"},
  "y2": {"field": "c"},
  "fill": {"condition": {"test": "datum.c >= datum.o", "value": "white"}, "value": "black"}
 }},
{"data": {"name": "bars"}, "mark": {"type": "line", "color": "#ff0000", "strokeWidth": 2},
 "encoding": {"x": {"field": "i", "type": "quantitative"}, "y": {"field": "t", "type": "quantitative"}}},
{"data": {"name": "bars"}, "mark": {"type": "line", "color": "#0000ff", "strokeWidth": 2},
 "encoding": {"x": {"field": "i", "type": "quantitative"}, "y": {"field": "k", "type": "quantitative"}}},
{"data": {"name": "cloud"}, "mark": {"type": "area", "blend": "difference", "strokeWidth": 1, "opacity": 1, "fillOpacity": 1, "interpolate": "linear"},
 "encoding": {
  "x": {"field": "i", "type": "quantitative"},
  "y": {"field": "hi", "type": "quantitative"},
  "y2": {"field": "lo"},
  "detail": {"field": "seg"},
  "color": {"field": "kind", "type": "nominal", "scale": {"domain": ["bull","bear"], "range": ["#0b5b9f","#274027"]}, "legend": null},
  "stroke": {"field": "kind", "type": "nominal", "scale": {"domain": ["bull","bear"], "range": ["#0b5b9f","#274027"]}, "legend": null}
 }},
{"data": {"name": "bars"}, "mark": {"type": "line", "color": "#00ff00", "strokeWidth": 2},
 "encoding": {"x": {"field": "i", "type": "quantitative"}, "y": {"field": "ch", "type": "quantitative"}}},
{"data": {"name": "price"}, "mark": {"type": "rule", "color": "#990000", "strokeWidth": 1},
 "encoding": {"y": {"field": "p", "type": "quantitative"}}},
{"data": {"name": "vline"}, "mark": {"type": "rule", "color": "#8a2be2", "strokeWidth": 5},
 "encoding": {"x": {"field": "i", "type": "quantitative"}}},
{"data": {"name": "box"}, "mark": {"type": "rect", "filled": false, "stroke": "#ff40ff", "strokeWidth": 4},
 "encoding": {"x": {"field": "i", "type": "quantitative"}, "x2": {"field": "i2"},
  "y": {"field": "p", "type": "quantitative"}, "y2": {"field": "p2"}}},
{"data": {"name": "arrowup"}, "mark": {"type": "point", "filled": true, "fill": "white", "stroke": "#44cc22", "size": 361, "strokeWidth": 1.5, "opacity": 1,
  "shape": "M0,-1L0.9,-0.15L0.32,-0.15L0.32,1L-0.32,1L-0.32,-0.15L-0.9,-0.15Z"},
 "encoding": {"x": {"field": "i", "type": "quantitative"}, "y": {"field": "p", "type": "quantitative"}}},
{"data": {"name": "arrowdown"}, "mark": {"type": "point", "filled": true, "fill": "white", "stroke": "#ff3030", "size": 361, "strokeWidth": 1.5, "opacity": 1,
  "shape": "M0,1L0.9,0.15L0.32,0.15L0.32,-1L-0.32,-1L-0.32,0.15L-0.9,0.15Z"},
 "encoding": {"x": {"field": "i", "type": "quantitative"}, "y": {"field": "p", "type": "quantitative"}}},
{"data": {"name": "pricetag"}, "mark": {"type": "rect", "fill": "#cc0000"},
 "encoding": {"x": {"field": "i", "type": "quantitative"}, "x2": {"field": "i2"},
  "y": {"field": "p", "type": "quantitative"}, "y2": {"field": "p2"}}},
{"data": {"name": "pricetag"}, "mark": {"type": "text", "color": "white", "fontSize": 9.5, "align": "center", "baseline": "middle", "font": "Liberation Sans"},
 "encoding": {"x": {"field": "im", "type": "quantitative"}, "y": {"field": "pm", "type": "quantitative"}, "text": {"field": "label"}}},
{"data": {"name": "timetag"}, "mark": {"type": "rect", "fill": "#8a2be2"},
 "encoding": {"x": {"field": "i", "type": "quantitative"}, "x2": {"field": "i2"},
  "y": {"field": "p", "type": "quantitative"}, "y2": {"field": "p2"}}},
{"data": {"name": "timetag"}, "mark": {"type": "text", "color": "white", "fontSize": 9.5, "align": "center", "baseline": "middle", "font": "Liberation Sans"},
 "encoding": {"x": {"field": "im", "type": "quantitative"}, "y": {"field": "pm", "type": "quantitative"}, "text": {"field": "label"}}}
]
}
